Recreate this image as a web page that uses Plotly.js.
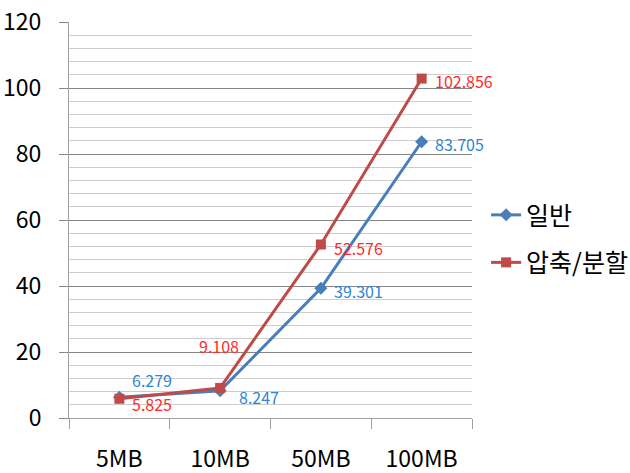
<!DOCTYPE html>
<html><head><meta charset="utf-8">
<script src="https://cdn.plot.ly/plotly-3.0.1.min.js"></script>
<style>body{margin:0;background:#fff}</style>
</head><body>
<div id="chart" style="width:630px;height:473px"></div>
<script>
const categories = ["5MB", "10MB", "50MB", "100MB"];
const seriesNames = ["일반", "압축/분할"];
const normalValues = [6.279, 8.247, 39.301, 83.705];
const splitValues = [5.825, 9.108, 52.576, 102.856];
const yTicks = [0, 20, 40, 60, 80, 100, 120];

const fontFam = "'Noto Sans CJK KR', 'Noto Sans', sans-serif";
const blue = "#4a7ebb", red = "#be4b48";
const blueLbl = "#2e86d6", redLbl = "#ff2a2a";

const traces = [
  {x: categories, y: normalValues, name: seriesNames[0], legendgroup: "a", type: "scatter", mode: "lines+markers",
   line: {color: blue, width: 3}, marker: {symbol: "diamond", size: 10, color: blue}},
  {x: categories, y: splitValues, name: seriesNames[1], legendgroup: "b", type: "scatter", mode: "lines+markers",
   line: {color: red, width: 3}, marker: {symbol: "square", size: 10, color: red}}
];

// label offsets (pixels) per point
const blueOff = [[12, 17], [18, -6], [12, -3], [12, -2]];
const redOff = [[12, -5], [-22, 42], [12, -3], [12, -2]];
const annotations = [];
categories.forEach((c, i) => {
  annotations.push({x: c, y: normalValues[i], xref: "x", yref: "y", text: String(normalValues[i]),
    showarrow: false, xanchor: "left", yanchor: "middle", xshift: blueOff[i][0], yshift: blueOff[i][1],
    borderpad: 0, font: {family: fontFam, size: 16, color: blueLbl}});
  annotations.push({x: c, y: splitValues[i], xref: "x", yref: "y", text: String(splitValues[i]),
    showarrow: false, xanchor: "left", yanchor: "middle", xshift: redOff[i][0], yshift: redOff[i][1],
    borderpad: 0, font: {family: fontFam, size: 16, color: redLbl}});
});

const layout = {
  width: 630, height: 473,
  margin: {l: 69, r: 158, t: 22, b: 55, autoexpand: false},
  paper_bgcolor: "#fff", plot_bgcolor: "#fff",
  font: {family: fontFam, color: "#000"},
  showlegend: true,
  legend: {x: 1.035, xanchor: "left", y: 0.453, yanchor: "middle",
    font: {family: fontFam, size: 25, color: "#000"}, traceorder: "grouped", tracegroupgap: 12,
    bgcolor: "rgba(0,0,0,0)", itemwidth: 30},
  xaxis: {type: "category", range: [-0.5, 3.5], tickson: "boundaries",
    ticks: "outside", ticklen: 10, tickcolor: "#a0a0a0", tickwidth: 1,
    showline: true, linecolor: "#a0a0a0", linewidth: 1, showgrid: false,
    ticklabelstandoff: 20, zeroline: false,
    tickfont: {family: fontFam, size: 23, color: "#000"}},
  yaxis: {range: [0, 120], tickvals: yTicks, ticktext: yTicks.map(String),
    ticks: "outside", ticklen: 9, tickcolor: "#888", tickwidth: 1,
    showline: true, linecolor: "#a0a0a0", linewidth: 1,
    showgrid: true, gridcolor: "#868686", gridwidth: 1, zeroline: false,
    ticklabelstandoff: 13,
    minor: {dtick: 4, showgrid: true, gridcolor: "#cdcdcd", gridwidth: 1, ticks: ""},
    tickfont: {family: fontFam, size: 23, color: "#000"}},
  annotations: annotations
};

Plotly.newPlot("chart", traces, layout, {displayModeBar: false, staticPlot: true});
</script>
</body></html>
